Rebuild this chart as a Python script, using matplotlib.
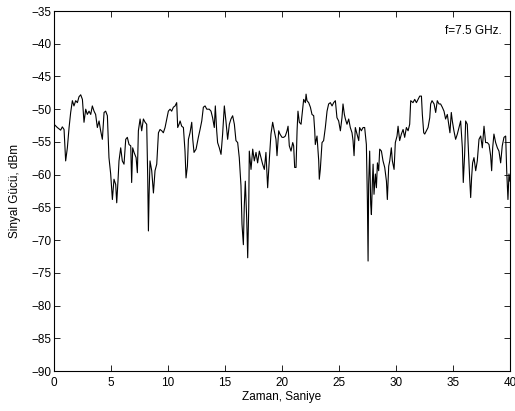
import matplotlib
matplotlib.use("Agg")
import matplotlib.pyplot as plt

# time (s) and received power (dBm)
zaman = [0.00, 0.29, 0.58, 0.73, 0.88, 1.02, 1.17, 1.32, 1.46, 1.61, 1.75, 1.90, 2.05, 2.19, 2.34, 2.49,
         2.63, 2.78, 2.92, 3.07, 3.22, 3.36, 3.51, 3.65, 3.80, 3.95, 4.09, 4.24, 4.39, 4.53, 4.68, 4.82,
         4.97, 5.12, 5.26, 5.41, 5.50, 5.61, 5.70, 5.85, 5.99, 6.14, 6.29, 6.43, 6.58, 6.73, 6.81,
         6.90, 7.02, 7.20, 7.31, 7.40, 7.55, 7.69, 7.84, 7.99, 8.13, 8.22, 8.28, 8.34, 8.42, 8.57, 8.72,
         8.86, 9.01, 9.16, 9.30, 9.45, 9.59, 9.74, 9.89, 10.03, 10.18, 10.32, 10.47, 10.62, 10.76, 10.85,
         10.97, 11.06, 11.20, 11.35, 11.49, 11.58, 11.70, 11.79, 11.93, 12.08, 12.17, 12.28, 12.46, 12.66,
         12.81, 12.96, 13.10, 13.25, 13.40,
         13.62, 13.77, 13.91, 14.06, 14.15, 14.27, 14.35, 14.50, 14.65, 14.79, 14.94, 15.08, 15.23, 15.38,
         15.52, 15.67, 15.82, 15.96, 16.11, 16.25, 16.40, 16.49, 16.61, 16.69, 16.78, 16.90, 16.99, 17.08,
         17.13, 17.28, 17.43, 17.57, 17.72, 17.86, 18.01, 18.16, 18.30, 18.45, 18.59, 18.74, 18.89, 19.03,
         19.18, 19.32, 19.47, 19.56, 19.71, 19.82, 20.00,
         20.15, 20.29, 20.44, 20.53, 20.64, 20.79, 20.94, 21.02, 21.11, 21.23, 21.32, 21.40, 21.52, 21.67,
         21.81, 21.90, 22.05, 22.11, 22.19, 22.34, 22.49, 22.63, 22.78, 22.87, 22.92, 23.07, 23.22, 23.27,
         23.36, 23.51, 23.65, 23.80, 23.95, 24.09, 24.24, 24.39, 24.53, 24.68, 24.82, 24.97, 25.12, 25.26,
         25.35, 25.47, 25.56, 25.70, 25.85, 25.99, 26.14, 26.23, 26.32, 26.43, 26.58, 26.73,
         26.81, 26.96, 27.11, 27.25, 27.40, 27.49, 27.55, 27.60, 27.69, 27.78, 27.84, 27.93, 27.99, 28.07,
         28.19, 28.28, 28.37, 28.48, 28.57, 28.72, 28.86, 29.01, 29.16, 29.24, 29.36, 29.45, 29.59, 29.68,
         29.83, 29.94, 30.09, 30.18, 30.32, 30.47, 30.62, 30.76, 30.91, 31.06, 31.20, 31.29, 31.49, 31.64,
         31.79, 31.93, 32.08, 32.23, 32.31, 32.43, 32.52, 32.66, 32.81, 32.96, 33.04, 33.16, 33.34,
         33.48, 33.62, 33.77, 33.91, 34.06, 34.21, 34.35, 34.50, 34.65, 34.73, 34.85, 34.94, 35.08, 35.23,
         35.38, 35.52, 35.67, 35.82, 35.90, 36.02, 36.11, 36.25, 36.34, 36.46, 36.55, 36.63, 36.72, 36.84,
         36.99, 37.13, 37.28, 37.43, 37.57, 37.72, 37.86, 38.01, 38.16, 38.30, 38.39, 38.48, 38.59, 38.74,
         38.89, 39.03, 39.18, 39.32, 39.47, 39.62, 39.71, 39.82, 39.91, 40.00]

guc = [-52.3, -52.8, -53.2, -52.7, -53.1, -57.9, -55.9, -52.8, -50.5, -48.7, -49.5, -48.7, -49.0, -48.1, -47.8, -48.5,
       -52.0, -50.0, -50.8, -50.3, -50.8, -49.5, -50.3, -50.8, -52.8, -51.8, -53.3, -54.6, -50.5, -50.3, -51.0, -57.4,
       -59.9, -63.8, -60.7, -61.5, -64.3, -61.0, -57.9, -55.9, -57.9, -58.4, -54.6, -54.3, -55.4, -55.6, -61.2,
       -55.9, -56.6, -57.4, -59.7, -53.3, -51.5, -53.3, -51.5, -52.0, -52.3, -60.5, -68.6, -63.0, -57.9, -59.4, -62.8,
       -59.4, -58.4, -53.6, -53.1, -53.3, -53.6, -52.8, -51.5, -50.3, -50.0, -50.3, -49.7, -49.5, -49.0, -52.8,
       -52.3, -51.8, -52.6, -52.8, -56.4, -60.5, -58.7, -54.6, -53.6, -52.0, -54.6, -56.6, -56.1, -54.3,
       -53.1, -51.8, -49.7, -49.5, -50.0,
       -50.0, -50.3, -51.3, -52.8, -49.5, -53.3, -55.1, -55.9, -56.9, -53.8, -49.5, -51.8, -54.6, -52.3,
       -51.5, -51.0, -52.3, -54.8, -55.1, -57.4, -61.7, -67.6, -70.7, -64.8, -61.0, -66.6, -72.7, -65.1,
       -56.4, -59.2, -56.1, -57.9, -56.6, -58.2, -56.4, -57.4, -58.4, -59.2, -56.6, -62.0, -57.6, -53.8,
       -52.0, -53.3, -54.6, -57.1, -53.3, -53.8, -54.3,
       -54.3, -54.1, -53.3, -52.6, -55.6, -56.4, -55.1, -55.6, -58.9, -58.9, -53.3, -50.3, -52.0, -52.3,
       -50.0, -48.5, -49.0, -47.7, -48.7, -49.0, -49.7, -50.8, -51.0, -53.3, -55.4, -54.1, -57.9, -60.7,
       -59.2, -55.1, -54.8, -52.8, -50.3, -49.2, -49.0, -49.5, -49.0, -48.7, -51.3, -51.8, -53.3, -51.3,
       -49.2, -50.8, -51.5, -52.3, -51.5, -52.8, -53.6, -54.8, -57.1, -52.8, -53.8, -54.8,
       -52.8, -53.3, -52.8, -52.8, -55.4, -64.0, -73.2, -61.5, -56.4, -64.5, -66.1, -61.0, -58.4, -63.0,
       -59.9, -62.0, -58.2, -59.4, -56.1, -56.4, -57.9, -58.9, -61.0, -63.8, -58.7, -57.9, -55.9, -57.9,
       -59.2, -55.1, -54.1, -52.6, -54.8, -53.8, -53.1, -54.3, -52.8, -53.3, -52.3, -48.7, -49.0, -48.5,
       -49.0, -48.5, -48.0, -48.0, -50.8, -53.6, -53.8, -53.3, -52.8, -51.3, -49.2, -48.7, -49.2,
       -50.5, -48.7, -49.2, -49.2, -49.7, -50.3, -51.5, -50.8, -52.6, -53.6, -50.5, -51.8, -53.3, -54.6,
       -53.8, -52.8, -51.8, -55.9, -61.2, -56.9, -51.8, -52.3, -55.9, -60.5, -63.5, -60.5, -58.2, -57.4,
       -59.4, -57.9, -54.6, -54.1, -55.9, -52.6, -55.1, -55.1, -55.4, -57.1, -59.4, -55.9, -53.8, -55.1,
       -55.9, -56.4, -58.2, -55.6, -54.3, -54.1, -59.4, -63.8, -59.9, -61.0]

x_ticks = list(range(0, 41, 5))
y_ticks = list(range(-90, -34, 5))

plt.rcParams['font.family'] = ['Liberation Sans', 'DejaVu Sans']

fig = plt.figure(figsize=(5.15, 4.11), dpi=100)
ax = fig.add_axes([0.1049, 0.0973, 0.8854, 0.8759])
ax.plot(zaman, guc, color='black', linewidth=0.8)
ax.set_xlim(0, 40)
ax.set_ylim(-90, -35)
ax.set_xticks(x_ticks)
ax.set_yticks(y_ticks)
ax.tick_params(direction='in', top=True, right=True, labelsize=8.5, length=4, width=0.6)
ax.tick_params(axis='x', pad=4)
ax.tick_params(axis='y', pad=2)
for s in ax.spines.values():
    s.set_linewidth(0.8)
ax.set_xlabel("Zaman, Saniye", fontsize=8.5, labelpad=2)
ax.set_ylabel("Sinyal Gücü, dBm", fontsize=8.5, labelpad=7)
ax.text(34.3, -38.0, "f=7.5 GHz.", fontsize=8.5, va='center')

fig.savefig("out.png", dpi=100)
